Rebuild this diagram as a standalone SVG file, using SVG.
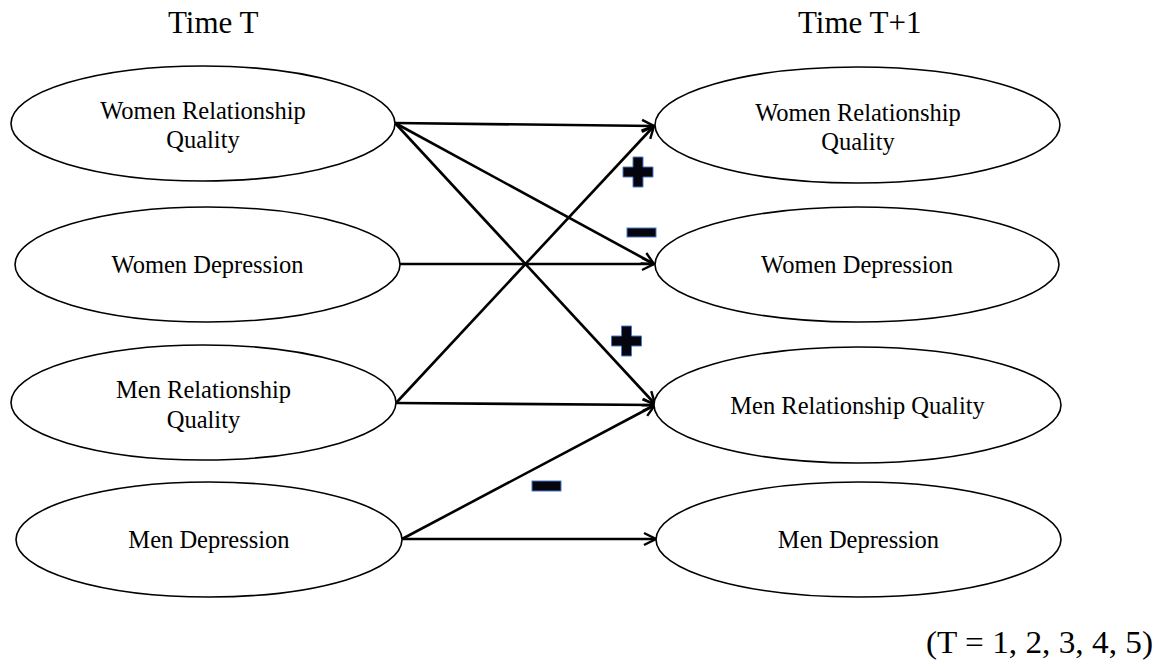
<svg xmlns="http://www.w3.org/2000/svg" width="1161" height="666" viewBox="0 0 1161 666">
<defs>
<marker id="arr" markerUnits="userSpaceOnUse" markerWidth="16" markerHeight="16" refX="13" refY="7" orient="auto" viewBox="0 0 16 14">
<path d="M1,1 L13,7 L1,13" fill="none" stroke="#000" stroke-width="2.4" stroke-linejoin="miter"/>
</marker>
<path id="plus" d="M-5,-15 H5 V-5 H15 V5 H5 V15 H-5 V5 H-15 V-5 H-5 Z"/>
</defs>
<style>
.node ellipse{fill:#fff;stroke:#000;stroke-width:1.6}
.lbl{font-family:"Liberation Serif","Times New Roman",serif;font-size:24.5px;fill:#000;text-anchor:middle}
.title{font-family:"Liberation Serif","Times New Roman",serif;font-size:31px;fill:#000}
.conn line{stroke:#000;stroke-width:2.6;marker-end:url(#arr)}
.sign{fill:#05050f;stroke:#4a78c8;stroke-width:1}
</style>
<rect width="1161" height="666" fill="#fff"/>
<text class="title" x="168" y="33">Time T</text>
<text class="title" x="798" y="33">Time T+1</text>
<text class="title" x="926" y="653" textLength="227" lengthAdjust="spacingAndGlyphs">(T = 1, 2, 3, 4, 5)</text>
<g class="conn" id="connectors">
<line x1="395" y1="123" x2="654" y2="126"/>
<line x1="395" y1="123" x2="654" y2="264"/>
<line x1="395" y1="123" x2="655" y2="404"/>
<line x1="400" y1="264" x2="654" y2="264"/>
<line x1="396" y1="403" x2="654" y2="126"/>
<line x1="396" y1="403" x2="655" y2="405"/>
<line x1="402" y1="539" x2="655" y2="405"/>
<line x1="402" y1="539" x2="656" y2="539"/>
</g>
<g id="signs">
<use href="#plus" class="sign" x="638" y="172"/>
<rect class="sign" x="627" y="228" width="29" height="9"/>
<use href="#plus" class="sign" x="626.5" y="341"/>
<rect class="sign" x="532" y="481" width="29" height="10"/>
</g>
<g class="node" id="women-rq-t">
<ellipse cx="203" cy="123.5" rx="192" ry="57.5"/>
<text class="lbl" x="203" y="119">Women Relationship</text>
<text class="lbl" x="203" y="147.5">Quality</text>
</g>
<g class="node" id="women-dep-t">
<ellipse cx="207.5" cy="264.5" rx="192.5" ry="57.5"/>
<text class="lbl" x="207.5" y="273">Women Depression</text>
</g>
<g class="node" id="men-rq-t">
<ellipse cx="203.5" cy="402.5" rx="192.5" ry="57.5"/>
<text class="lbl" x="203.5" y="397.5">Men Relationship</text>
<text class="lbl" x="203.5" y="427.5">Quality</text>
</g>
<g class="node" id="men-dep-t">
<ellipse cx="209" cy="539.5" rx="193" ry="57.5"/>
<text class="lbl" x="209" y="548">Men Depression</text>
</g>
<g class="node" id="women-rq-t1">
<ellipse cx="857.5" cy="125" rx="202.5" ry="58"/>
<text class="lbl" x="858" y="121">Women Relationship</text>
<text class="lbl" x="858" y="150">Quality</text>
</g>
<g class="node" id="women-dep-t1">
<ellipse cx="857" cy="264.5" rx="202" ry="57.5"/>
<text class="lbl" x="857" y="273">Women Depression</text>
</g>
<g class="node" id="men-rq-t1">
<ellipse cx="857.5" cy="405" rx="203.5" ry="58"/>
<text class="lbl" x="857.5" y="414">Men Relationship Quality</text>
</g>
<g class="node" id="men-dep-t1">
<ellipse cx="858.5" cy="539.5" rx="202.5" ry="57.5"/>
<text class="lbl" x="858.5" y="548">Men Depression</text>
</g>
</svg>
